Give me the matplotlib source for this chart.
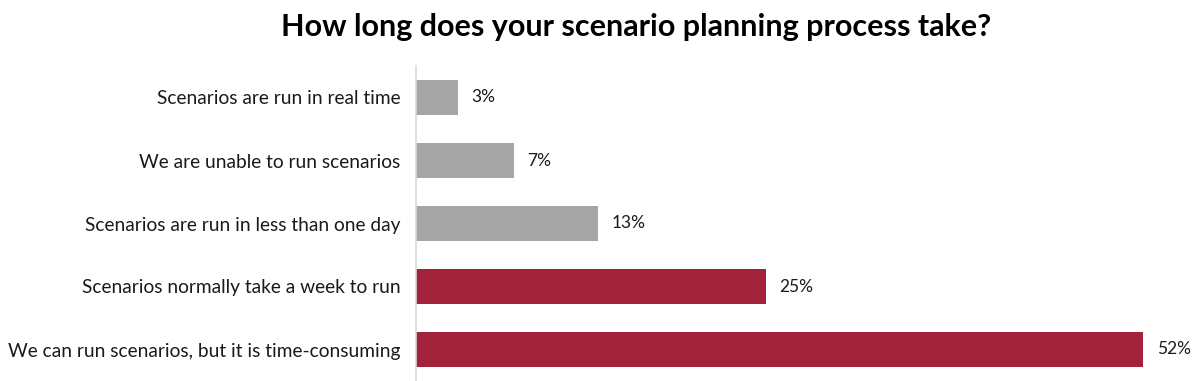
import matplotlib
matplotlib.use("Agg")
import matplotlib.pyplot as plt

plt.rcParams["font.family"] = ["Lato", "DejaVu Sans"]

# ─── DATA ─────────────────────────────────────────────────────────────────────
categories = [
    "Scenarios are run in real time",
    "We are unable to run scenarios",
    "Scenarios are run in less than one day",
    "Scenarios normally take a week to run",
    "We can run scenarios, but it is time-consuming",
]
values = [3, 7, 13, 25, 52]
highlight = [False, False, False, True, True]

GRAY = "#a5a5a5"
RED = "#a2213b"

fig = plt.figure(figsize=(12, 3.81), dpi=100)
ax = fig.add_axes([416 / 1200, 0, 1 - 416 / 1200 - 0.004, 315 / 381])

colors = [RED if h else GRAY for h in highlight]
y = list(range(len(categories)))
ax.barh(y, values, height=0.55, color=colors)
ax.set_ylim(len(categories) - 0.5, -0.5)
ax.set_xlim(0, 55.7)

for yi, v in zip(y, values):
    ax.text(v + 0.95, yi, f"{v}%", va="center", ha="left", fontsize=12.5, color="#1a1a1a")

ax.set_yticks(y)
ax.set_yticklabels(categories, fontsize=13.8, color="#1a1a1a")
ax.tick_params(axis="y", length=0, pad=11)
ax.set_xticks([])
for s in ["top", "right", "bottom"]:
    ax.spines[s].set_visible(False)
ax.spines["left"].set_color("#d9d9d9")
ax.spines["left"].set_linewidth(1.2)

fig.text(0.53, 0.928, "How long does your scenario planning process take?",
         ha="center", va="center", fontsize=22, fontweight="bold", color="black")

fig.savefig("out.png", dpi=100)
